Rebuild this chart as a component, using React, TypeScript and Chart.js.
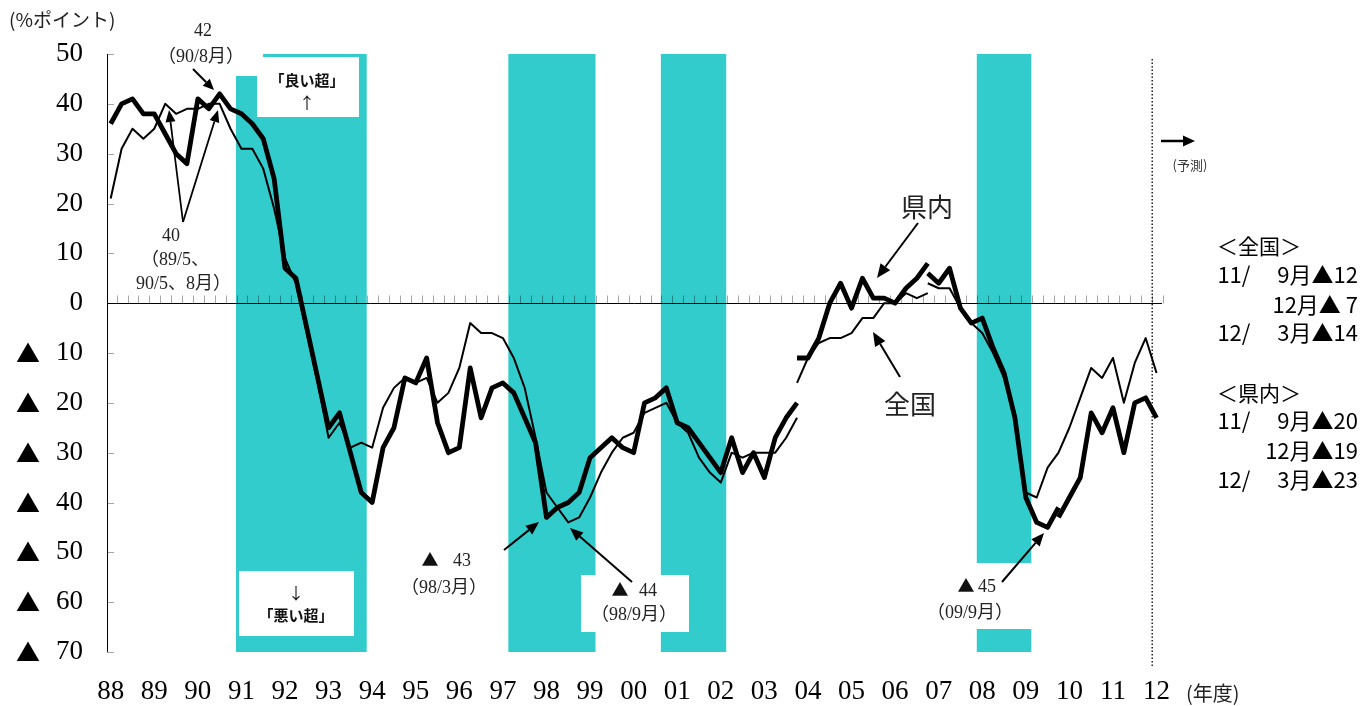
import React, { useEffect, useRef } from "react";
import { Chart, registerables } from "chart.js";

Chart.register(...registerables);

// Quarterly index 0 = 1988/2月 ... 96 = 2012/3月
// 県内 (prefecture) – thick line, split where the survey basis changes
const kennaiA = [36, 40, 41, 38, 38, 34, 30, 28, 41, 39, 42, 39, 38, 36, 33, 25, 7, 5, -5, -15,
  -25, -22, -30, -38, -40, -29, -25, -15, -16, -11, -24, -30, -29, -13, -23, -17, -16, -18, -23, -28,
  -43, -41, -40, -38, -31, -29, -27, -29, -30, -20, -19, -17, -24, -25, -28, -31, -34, -27, -34, -30,
  -35, -27, -23, -20];
const kennaiAStart = 0;
const kennaiB = [-11, -11, -7, 0, 4, -1, 5, 1, 1, 0, 3, 5, 8];
const kennaiBStart = 63;
const kennaiC = [6, 4, 7, -1, -4, -3, -9, -14, -23, -39, -44, -45, -41];
const kennaiCStart = 75;
const kennaiD = [-43, -39, -35, -22, -26, -21, -30, -20, -19, -23];
const kennaiDStart = 87;

// 全国 (national) – thin line
const zenkokuA = [21, 31, 35, 33, 35, 40, 38, 39, 39, 40, 40, 35, 31, 31, 27, 19, 9, 4, -6, -16,
  -27, -24, -29, -28, -29, -21, -17, -15, -16, -15, -20, -18, -13, -4, -6, -6, -7, -11, -17, -27,
  -38, -41, -44, -43, -39, -34, -30, -27, -26, -22, -21, -20, -24, -26, -31, -34, -36, -30, -31, -30,
  -30, -30, -27, -23];
const zenkokuAStart = 0;
const zenkokuB = [-16, -11, -8, -7, -7, -6, -3, -3, 0, 0, 2, 1, 2];
const zenkokuBStart = 63;
const zenkokuC = [4, 3, 3, -1, -4, -6, -10, -15, -22, -38, -39, -33, -30, -25, -19, -13, -15, -11, -20, -12, -7, -14];
const zenkokuCStart = 75;

// recession periods (first and last quarter index)
const bands = [[12, 23], [37, 44], [51, 56], [80, 84]];
const forecastLine = 95.6;

const yTickValues = [50, 40, 30, 20, 10, 0, -10, -20, -30, -40, -50, -60, -70];
const yearLabels = ["88", "89", "90", "91", "92", "93", "94", "95", "96", "97", "98", "99", "00",
  "01", "02", "03", "04", "05", "06", "07", "08", "09", "10", "11", "12"];

const TEAL = "#33CCCC";
const SERIF = "'Liberation Serif', 'Noto Sans CJK JP', serif";
const JP = "'Noto Sans CJK JP', sans-serif";

function pts(arr: number[], start: number) {
  return arr.map((v, k) => ({ x: start + k, y: v }));
}

function arrow(ctx: CanvasRenderingContext2D, x1: number, y1: number, x2: number, y2: number, lw = 2, hl = 13, hw = 11) {
  const a = Math.atan2(y2 - y1, x2 - x1);
  const bx = x2 - hl * Math.cos(a);
  const by = y2 - hl * Math.sin(a);
  ctx.save();
  ctx.strokeStyle = "#000";
  ctx.fillStyle = "#000";
  ctx.lineWidth = lw;
  ctx.beginPath();
  ctx.moveTo(x1, y1);
  ctx.lineTo(bx, by);
  ctx.stroke();
  ctx.beginPath();
  ctx.moveTo(x2, y2);
  ctx.lineTo(bx + (hw / 2) * Math.sin(a), by - (hw / 2) * Math.cos(a));
  ctx.lineTo(bx - (hw / 2) * Math.sin(a), by + (hw / 2) * Math.cos(a));
  ctx.closePath();
  ctx.fill();
  ctx.restore();
}

function txt(ctx: CanvasRenderingContext2D, s: string, x: number, y: number, font: string, align: CanvasTextAlign = "center", color = "#000") {
  ctx.font = font;
  ctx.fillStyle = color;
  ctx.textAlign = align;
  ctx.textBaseline = "middle";
  ctx.fillText(s, x, y);
}

const decorPlugin = {
  id: "decor",
  beforeDatasetsDraw(chart: any) {
    const { ctx, scales } = chart;
    const X = (v: number) => scales.x.getPixelForValue(v);
    const Y = (v: number) => scales.y.getPixelForValue(v);
    ctx.save();
    // recession bands
    ctx.fillStyle = TEAL;
    for (const [s, e] of bands) {
      const l = X(s - 0.5), r = X(e + 0.5);
      ctx.fillRect(l, Y(50), r - l, Y(-70) - Y(50));
    }
    // white label boxes
    ctx.fillStyle = "#fff";
    ctx.fillRect(230, 50, 33, 26);
    ctx.fillRect(257, 57, 102, 60);
    ctx.fillRect(239, 571, 115, 65);
    ctx.fillRect(581, 575, 108, 57);
    ctx.fillRect(930, 563, 110, 66);

    // minor quarterly ticks
    const y0 = Math.round(Y(0)) + 0.5;
    ctx.strokeStyle = "rgba(0,0,0,0.35)";
    ctx.lineWidth = 1;
    ctx.beginPath();
    for (let k = 0; k <= 96; k++) {
      const xx = Math.round(X(k + 0.55)) + 0.5;
      ctx.moveTo(xx, y0 - 8);
      ctx.lineTo(xx, y0);
    }
    // y ticks
    for (const v of yTickValues) {
      const yy = Math.round(Y(v)) + 0.5;
      ctx.moveTo(scales.x.left, yy);
      ctx.lineTo(scales.x.left + 7, yy);
    }
    ctx.stroke();

    // zero line + y axis
    ctx.strokeStyle = "#000";
    ctx.lineWidth = 1;
    ctx.beginPath();
    ctx.moveTo(scales.x.left, y0);
    ctx.lineTo(scales.x.right, y0);
    const ax = Math.round(scales.x.left) + 0.5;
    ctx.moveTo(ax, Y(50));
    ctx.lineTo(ax, Y(-70));
    ctx.stroke();

    // forecast dotted line
    ctx.setLineDash([1.5, 2]);
    ctx.lineWidth = 1.3;
    ctx.beginPath();
    const fx = X(forecastLine);
    ctx.moveTo(fx, 59);
    ctx.lineTo(fx, 667);
    ctx.stroke();
    ctx.setLineDash([]);
    ctx.restore();
  },
  afterDatasetsDraw(chart: any) {
    const { ctx, scales } = chart;
    const X = (v: number) => scales.x.getPixelForValue(v);
    const Y = (v: number) => scales.y.getPixelForValue(v);
    ctx.save();
    // y labels
    for (const v of yTickValues) {
      const yy = Y(v);
      if (v < 0) txt(ctx, "▲", 28, yy, `24px ${JP}`, "center");
      txt(ctx, String(Math.abs(v)), 83, yy, `27px ${SERIF}`, "right");
    }
    txt(ctx, "(%ポイント)", 9, 20, `19px ${JP}`, "left", "#222");
    // x labels
    yearLabels.forEach((lab, k) => {
      txt(ctx, lab, X(4 * k), 692, `27px ${SERIF}`, "center");
    });
    txt(ctx, "(年度)", 1186, 693, `20px ${JP}`, "left", "#222");

    const ann = `18px ${SERIF}`;
    // 42 (90/8月)
    txt(ctx, "42", 203, 31, ann, "center", "#222");
    txt(ctx, "（90/8月）", 201, 57, ann, "center", "#222");
    arrow(ctx, 193, 69, 214, 90, 2, 11, 10);
    // 40 (89/5、90/5、8月)
    txt(ctx, "40", 171, 236, ann, "center", "#222");
    txt(ctx, "（89/5、", 141, 260, ann, "left", "#222");
    txt(ctx, "90/5、8月）", 136, 284, ann, "left", "#222");
    arrow(ctx, 183, 222, 169, 110, 1.8, 12, 10);
    arrow(ctx, 183, 222, 218, 110, 1.8, 12, 10);
    // 良い超 / 悪い超
    txt(ctx, "「良い超」", 307, 80, `bold 15px ${JP}`, "center", "#111");
    txt(ctx, "↑", 307, 103, `16px ${JP}`, "center", "#111");
    txt(ctx, "↓", 296, 593, `16px ${JP}`, "center", "#111");
    txt(ctx, "「悪い超」", 296, 615, `bold 15px ${JP}`, "center", "#111");
    // ▲43
    txt(ctx, "▲", 430, 560, `17px ${JP}`, "center", "#111");
    txt(ctx, "43", 462, 561, ann, "center", "#222");
    txt(ctx, "（98/3月）", 444, 588, ann, "center", "#222");
    arrow(ctx, 504, 550, 539, 522, 2, 13, 11);
    // ▲44
    txt(ctx, "▲", 620, 590, `17px ${JP}`, "center", "#111");
    txt(ctx, "44", 648, 591, ann, "center", "#222");
    txt(ctx, "（98/9月）", 634, 615, ann, "center", "#222");
    arrow(ctx, 632, 582, 570, 528, 2, 13, 11);
    // ▲45
    txt(ctx, "▲", 966, 586, `17px ${JP}`, "center", "#111");
    txt(ctx, "45", 987, 587, ann, "center", "#222");
    txt(ctx, "（09/9月）", 970, 613, ann, "center", "#222");
    arrow(ctx, 1002, 582, 1044, 533, 2, 13, 11);
    // series labels
    txt(ctx, "県内", 927, 207, `26px ${JP}`, "center", "#222");
    arrow(ctx, 918, 223, 877, 278, 2, 14, 12);
    txt(ctx, "全国", 910, 404, `26px ${JP}`, "center", "#222");
    arrow(ctx, 900, 377, 873, 332, 2, 14, 12);
    // forecast arrow
    arrow(ctx, 1161, 141, 1195, 141, 2.5, 12, 11);
    txt(ctx, "(予測)", 1190, 165, `13px ${JP}`, "center", "#333");

    // right panel
    const pf = `22px ${JP}`;
    txt(ctx, "＜全国＞", 1217, 246, `21px ${JP}`, "left");
    txt(ctx, "11/　 9月▲12", 1358, 275, pf, "right");
    txt(ctx, "12月▲ 7", 1358, 305, pf, "right");
    txt(ctx, "12/　 3月▲14", 1358, 333, pf, "right");
    txt(ctx, "＜県内＞", 1217, 393, `21px ${JP}`, "left");
    txt(ctx, "11/　 9月▲20", 1358, 421, pf, "right");
    txt(ctx, "12月▲19", 1358, 451, pf, "right");
    txt(ctx, "12/　 3月▲23", 1358, 480, pf, "right");
    ctx.restore();
  },
};

export default function App() {
  const ref = useRef<HTMLCanvasElement | null>(null);
  useEffect(() => {
    if (!ref.current) return;
    const thick = { borderColor: "#000", borderWidth: 4.8, pointRadius: 0, fill: false, tension: 0, borderJoinStyle: "round" as const };
    const thin = { borderColor: "#000", borderWidth: 2, pointRadius: 0, fill: false, tension: 0, borderJoinStyle: "round" as const };
    const chart = new Chart(ref.current, {
      type: "line",
      data: {
        datasets: [
          { label: "県内", data: pts(kennaiA, kennaiAStart), ...thick },
          { label: "県内", data: pts(kennaiB, kennaiBStart), ...thick },
          { label: "県内", data: pts(kennaiC, kennaiCStart), ...thick },
          { label: "県内", data: pts(kennaiD, kennaiDStart), ...thick },
          { label: "全国", data: pts(zenkokuA, zenkokuAStart), ...thin },
          { label: "全国", data: pts(zenkokuB, zenkokuBStart), ...thin },
          { label: "全国", data: pts(zenkokuC, zenkokuCStart), ...thin },
        ],
      },
      options: {
        animation: false,
        responsive: false,
        devicePixelRatio: 1,
        layout: { padding: { left: 107, top: 54, right: 200, bottom: 54 } },
        scales: {
          x: { type: "linear", min: -0.34, max: 96.5, display: false },
          y: { type: "linear", min: -70, max: 50, display: false },
        },
        plugins: { legend: { display: false }, tooltip: { enabled: false } },
      },
      plugins: [decorPlugin],
    });
    return () => chart.destroy();
  }, []);
  return (
    <div style={{ position: "absolute", left: 0, top: 0, width: 1362, height: 706, background: "#fff" }}>
      <canvas ref={ref} width={1362} height={706} style={{ display: "block", width: 1362, height: 706 }} />
    </div>
  );
}
